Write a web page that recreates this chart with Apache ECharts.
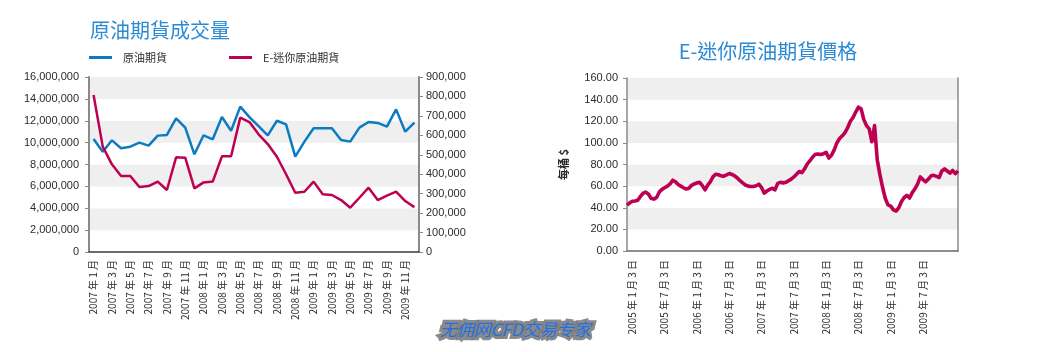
<!DOCTYPE html>
<html><head><meta charset="utf-8">
<script src="https://cdn.jsdelivr.net/npm/echarts@6/dist/echarts.min.js"></script>
<style>html,body{margin:0;padding:0;background:#fff}#c{width:1042px;height:352px}</style>
</head><body><div id="c"></div>
<script>
const volMonths = ['2007 年 1 月','2007 年 2 月','2007 年 3 月','2007 年 4 月','2007 年 5 月','2007 年 6 月','2007 年 7 月','2007 年 8 月','2007 年 9 月','2007 年 10 月','2007 年 11 月','2007 年 12 月',
'2008 年 1 月','2008 年 2 月','2008 年 3 月','2008 年 4 月','2008 年 5 月','2008 年 6 月','2008 年 7 月','2008 年 8 月','2008 年 9 月','2008 年 10 月','2008 年 11 月','2008 年 12 月',
'2009 年 1 月','2009 年 2 月','2009 年 3 月','2009 年 4 月','2009 年 5 月','2009 年 6 月','2009 年 7 月','2009 年 8 月','2009 年 9 月','2009 年 10 月','2009 年 11 月','2009 年 12 月'];
const crudeVol = [10330000,9170000,10210000,9480000,9630000,10000000,9720000,10640000,10700000,12220000,11370000,8930000,
10670000,10300000,12340000,11090000,13290000,12330000,11500000,10670000,12000000,11670000,8720000,10090000,
11310000,11310000,11310000,10240000,10090000,11370000,11890000,11800000,11460000,13040000,11000000,11820000];
const miniVol = [807000,542000,451000,391000,391000,334000,339000,362000,319000,487000,485000,327000,
358000,362000,492000,492000,691000,668000,605000,555000,490000,400000,305000,310000,
362000,297000,293000,267000,228000,279000,331000,267000,290000,310000,262000,231000];
const leftTicks = [0,2000000,4000000,6000000,8000000,10000000,12000000,14000000,16000000];
const rightTicks = [0,100000,200000,300000,400000,500000,600000,700000,800000,900000];

const priceDates = ['2004-12-03','2004-12-18',
'2005-01-03','2005-01-18','2005-02-03','2005-02-18','2005-03-03','2005-03-18','2005-04-03','2005-04-18','2005-05-03','2005-05-18','2005-06-03','2005-06-18','2005-07-03','2005-07-18','2005-08-03','2005-08-18','2005-09-03','2005-09-18','2005-10-03','2005-10-18','2005-11-03','2005-11-18','2005-12-03','2005-12-18',
'2006-01-03','2006-01-18','2006-02-03','2006-02-18','2006-03-03','2006-03-18','2006-04-03','2006-04-18','2006-05-03','2006-05-18','2006-06-03','2006-06-18','2006-07-03','2006-07-18','2006-08-03','2006-08-18','2006-09-03','2006-09-18','2006-10-03','2006-10-18','2006-11-03','2006-11-18','2006-12-03','2006-12-18',
'2007-01-03','2007-01-18','2007-02-03','2007-02-18','2007-03-03','2007-03-18','2007-04-03','2007-04-18','2007-05-03','2007-05-18','2007-06-03','2007-06-18','2007-07-03','2007-07-18','2007-08-03','2007-08-18','2007-09-03','2007-09-18','2007-10-03','2007-10-18','2007-11-03','2007-11-18','2007-12-03','2007-12-18',
'2008-01-03','2008-01-18','2008-02-03','2008-02-18','2008-03-03','2008-03-18','2008-04-03','2008-04-18','2008-05-03','2008-05-18','2008-06-03','2008-06-18','2008-07-03','2008-07-18','2008-08-03','2008-08-18','2008-09-03','2008-09-18','2008-10-03','2008-10-18','2008-11-03','2008-11-18','2008-12-03','2008-12-18',
'2009-01-03','2009-01-18','2009-02-03','2009-02-18','2009-03-03','2009-03-18','2009-04-03','2009-04-18','2009-05-03','2009-05-18','2009-06-03','2009-06-18','2009-07-03','2009-07-18','2009-08-03','2009-08-18','2009-09-03','2009-09-18','2009-10-03','2009-10-18','2009-11-03','2009-11-18','2009-12-03','2009-12-18',
'2010-01-03','2010-01-18'];
const miniPrice = [42.5,44.5,
46,46.3,47,50.5,53.4,54.4,52.5,48.5,48,49.5,54.5,57,58.5,60,62,65.5,64,61.5,60,58.5,57.3,58,
60.8,62,63,63.5,60.5,56.5,61,64.2,68.9,71,70.5,69.5,69.2,70.4,71.7,70.8,69.5,67.5,65,63,61,60,
59.6,59.6,60.3,61.8,58.7,53.5,55.5,57,58,56.5,62.5,63.5,63,63.5,65,66.5,68.5,71,73.5,72.5,76,80.5,83.5,87,
89.5,89.6,89.2,90,91.2,86,88.5,93.5,100,104,106.5,109.5,114,120,123.5,128.5,133,131.5,121.5,116,113,101,116,84,
70.4,58.5,48.5,42.6,41.5,38,37,40,45.7,49.5,51.5,49,54,57.5,62,68.5,66,64,66.5,69.5,70,69,68,74,
76,74,72,74.5,71.5,74];
const priceTickDates = ['2005-01-03','2005-07-03','2006-01-03','2006-07-03','2007-01-03','2007-07-03','2008-01-03','2008-07-03','2009-01-03','2009-07-03'];
const priceTickLabels = ['2005 年 1 月 3 日','2005 年 7 月 3 日','2006 年 1 月 3 日','2006 年 7 月 3 日','2007 年 1 月 3 日','2007 年 7 月 3 日','2008 年 1 月 3 日','2008 年 7 月 3 日','2009 年 1 月 3 日','2009 年 7 月 3 日'];

const BLUE = '#0b7bc2', RED = '#bd0052', TITLE = '#2a8ad4';
const FONT = '"Liberation Sans","Noto Sans CJK TC",sans-serif';
const CJK = '"Noto Sans CJK TC","Noto Sans",sans-serif';
const band = {show:true, areaStyle:{color:['#ffffff','#efefef']}};
const lab = {color:'#2b2b2b', fontSize:11, fontFamily:FONT};
const fmtComma = v => Number(v).toLocaleString('en-US');

const chart = echarts.init(document.getElementById('c'), null, {renderer:'canvas'});
chart.setOption({
  animation:false,
  backgroundColor:'#fff',
  title:[
    {text:'原油期貨成交量', left:85, top:15, textStyle:{color:TITLE, fontSize:20, fontWeight:'normal', fontFamily:CJK}},
    {text:'E-迷你原油期貨價格', left:763, textAlign:'center', top:36, textStyle:{color:TITLE, fontSize:20, fontWeight:'normal', fontFamily:CJK}}
  ],
  legend:{left:89, top:52, padding:0, itemGap:62, icon:'rect', itemWidth:23, itemHeight:3,
    textStyle:{fontSize:11, color:'#2b2b2b', fontFamily:CJK, padding:[0,0,0,6]},
    data:['原油期貨','E-迷你原油期貨']},
  grid:[
    {left:89, right:623, top:77, bottom:100},
    {left:627, right:84, top:78, bottom:101}
  ],
  xAxis:[
    {type:'category', gridIndex:0, data:volMonths, boundaryGap:true,
      axisLine:{lineStyle:{color:'#3a3a3a', width:1.5}}, axisTick:{show:false},
      axisLabel:Object.assign({}, lab, {fontSize:10, rotate:90, interval:1, margin:8, fontFamily:CJK})},
    {type:'category', gridIndex:1, data:priceDates, boundaryGap:false,
      axisLine:{lineStyle:{color:'#6a6a6a', width:1.5}}, axisTick:{show:false},
      axisLabel:Object.assign({}, lab, {fontSize:10, rotate:90, margin:9, fontFamily:CJK,
        interval:(i, v) => priceTickDates.includes(v),
        formatter:v => { const k = priceTickDates.indexOf(v); return k >= 0 ? priceTickLabels[k] : ''; }})}
  ],
  yAxis:[
    {type:'value', gridIndex:0, position:'left', min:leftTicks[0], max:leftTicks[leftTicks.length-1], interval:leftTicks[1]-leftTicks[0],
      axisLine:{show:true, lineStyle:{color:'#8a8a8a', width:2}}, axisTick:{show:true, length:4, lineStyle:{color:'#8a8a8a'}},
      splitLine:{show:false}, splitArea:band, axisLabel:Object.assign({}, lab, {formatter:fmtComma, margin:10})},
    {type:'value', gridIndex:0, position:'right', min:rightTicks[0], max:rightTicks[rightTicks.length-1], interval:rightTicks[1]-rightTicks[0],
      axisLine:{show:true, lineStyle:{color:'#8a8a8a', width:2}}, axisTick:{show:true, length:4, lineStyle:{color:'#8a8a8a'}},
      splitLine:{show:false}, axisLabel:Object.assign({}, lab, {formatter:fmtComma, margin:7})},
    {type:'value', gridIndex:1, position:'left', min:0, max:160, interval:20,
      name:'每桶 $', nameLocation:'middle', nameRotate:90, nameGap:58,
      nameTextStyle:{fontSize:11, fontWeight:'bold', color:'#2b2b2b', fontFamily:CJK},
      axisLine:{show:true, lineStyle:{color:'#8a8a8a', width:1.5}}, axisTick:{show:true, length:4, lineStyle:{color:'#8a8a8a'}},
      splitLine:{show:false}, splitArea:band, axisLabel:Object.assign({}, lab, {formatter:v => v.toFixed(2), margin:9})},
    {type:'value', gridIndex:1, position:'right', min:0, max:160, interval:20,
      axisLine:{show:true, lineStyle:{color:'#8a8a8a', width:1.5}}, axisTick:{show:false},
      splitLine:{show:false}, axisLabel:{show:false}}
  ],
  series:[
    {name:'原油期貨', type:'line', xAxisIndex:0, yAxisIndex:0, data:crudeVol, symbol:'none',
      lineStyle:{color:BLUE, width:2.5}, itemStyle:{color:BLUE}},
    {name:'E-迷你原油期貨', type:'line', xAxisIndex:0, yAxisIndex:1, data:miniVol, symbol:'none',
      lineStyle:{color:RED, width:2.5}, itemStyle:{color:RED}},
    {name:'E-迷你原油期貨價格', type:'line', xAxisIndex:1, yAxisIndex:2, data:miniPrice, symbol:'none',
      lineStyle:{color:RED, width:3.6, join:'round'}, itemStyle:{color:RED}}
  ],
  graphic:[
    {type:'text', left:437, top:318, z:100,
      style:{text:'无佣网CFD交易专家', font:'italic 17px "Noto Sans CJK SC", serif', fill:'#1f6fe6',
        stroke:'rgba(125,125,125,0.9)', lineWidth:6, shadowBlur:4, shadowColor:'rgba(120,120,120,0.8)'}}
  ]
});
</script></body></html>
